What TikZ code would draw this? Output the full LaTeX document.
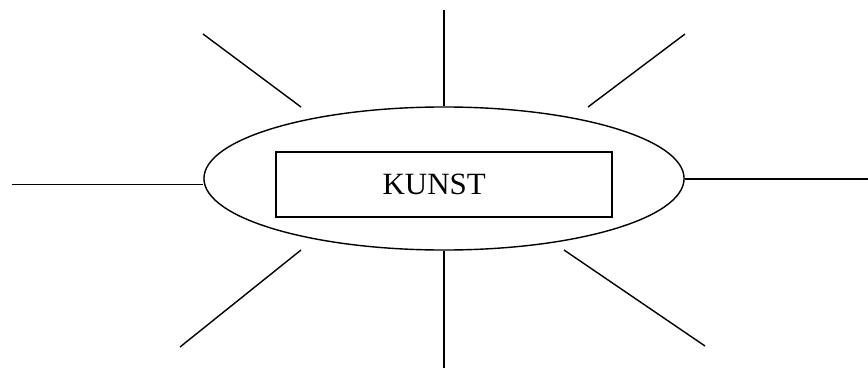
\documentclass[tikz,border=0pt]{standalone}
\usepackage{fontspec}
\setmainfont{Liberation Serif}
\usetikzlibrary{shapes.geometric}

\begin{document}
\begin{tikzpicture}[x=0.025cm, y=-0.025cm,
  ring/.style={draw, ellipse, line width=1pt, minimum width=12cm, minimum height=3.575cm, inner sep=0pt},
  word/.style={draw, line width=1pt, minimum width=8.4cm, minimum height=1.625cm, inner sep=0pt, font=\fontsize{22}{26}\selectfont},
  ray/.style={line width=1pt}
]
  \useasboundingbox (0,0) rectangle (868,369);

  %% Central ellipse and box
  \node[ring] (kunst) at (444,178.5) {};
  \node[word] (box) at (444,184.5) {\hspace*{-14pt}KUNST};

  %% Free ends of the rays
  \coordinate (top)    at (444,10);
  \coordinate (bottom) at (444,368);
  \coordinate (left)   at (12,184.5);
  \coordinate (right)  at (868,179);
  \coordinate (ulA) at (203,34);  \coordinate (ulB) at (301,107);
  \coordinate (urA) at (685,34);  \coordinate (urB) at (588,107);
  \coordinate (llA) at (301,250); \coordinate (llB) at (180,347);
  \coordinate (lrA) at (564,250); \coordinate (lrB) at (705,346);

  %% Rays
  \draw[ray] (kunst.north) -- (top);
  \draw[ray] (kunst.south) -- (bottom);
  \draw[ray] (kunst.west |- left)  -- (left);
  \draw[ray] (kunst.east |- right) -- (right);
  \draw[ray] (ulA) -- (ulB);
  \draw[ray] (urA) -- (urB);
  \draw[ray] (llA) -- (llB);
  \draw[ray] (lrA) -- (lrB);
\end{tikzpicture}
\end{document}
